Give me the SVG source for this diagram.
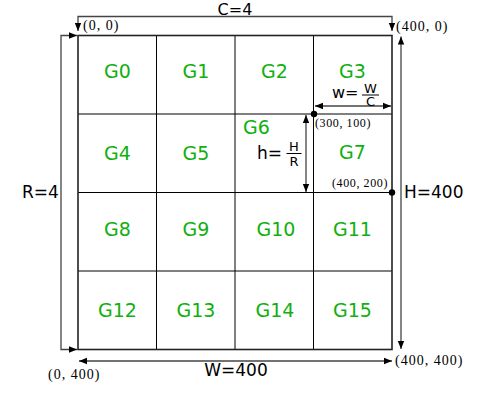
<svg xmlns="http://www.w3.org/2000/svg" width="490" height="418" viewBox="0 0 490 418">
<defs>
<marker id="ah" viewBox="0 0 10 10" refX="10" refY="5" markerWidth="8" markerHeight="8" markerUnits="userSpaceOnUse" orient="auto-start-reverse">
<path d="M0,1 L10,5 L0,9 z" fill="#000"/>
</marker>
</defs>
<style>
.grid{stroke:#000;stroke-width:1;fill:none}
.border{stroke:#222;stroke-width:1.6;fill:none}
.dim{stroke:#444;stroke-width:1.3;fill:none}
.g{font-family:"DejaVu Sans",sans-serif;font-size:19px;fill:#10b010;text-anchor:middle}
.lbl{font-family:"DejaVu Sans",sans-serif;font-size:17px;fill:#000}
.frac{font-family:"DejaVu Sans",sans-serif;font-size:13px;fill:#000;text-anchor:middle}
.co{font-family:"Liberation Serif","DejaVu Serif",serif;font-size:14px;fill:#000;letter-spacing:1px}
.cs{font-family:"Liberation Serif","DejaVu Serif",serif;font-size:12px;fill:#000;letter-spacing:0.6px}
</style>
<rect width="490" height="418" fill="#fff"/>
<g id="grid">
<path class="grid" d="M156.5,35.5V349.5M235,35.5V349.5M313.5,35.5V349.5M78,114H392M78,192.5H392M78,271H392"/>
<rect class="border" x="78" y="35.5" width="314" height="314"/>
</g>
<g id="cells">
<g id="G0"><text class="g" x="117.5" y="78">G0</text></g>
<g id="G1"><text class="g" x="196" y="78">G1</text></g>
<g id="G2"><text class="g" x="274.5" y="78">G2</text></g>
<g id="G3"><text class="g" x="352.5" y="78">G3</text></g>
<g id="G4"><text class="g" x="117.5" y="160">G4</text></g>
<g id="G5"><text class="g" x="196" y="160">G5</text></g>
<g id="G6"><text class="g" x="256.5" y="134">G6</text></g>
<g id="G7"><text class="g" x="352.5" y="159">G7</text></g>
<g id="G8"><text class="g" x="117.5" y="236">G8</text></g>
<g id="G9"><text class="g" x="196" y="236">G9</text></g>
<g id="G10"><text class="g" x="276" y="236">G10</text></g>
<g id="G11"><text class="g" x="352.5" y="236">G11</text></g>
<g id="G12"><text class="g" x="117.5" y="317">G12</text></g>
<g id="G13"><text class="g" x="196" y="317">G13</text></g>
<g id="G14"><text class="g" x="275" y="317">G14</text></g>
<g id="G15"><text class="g" x="352.5" y="317">G15</text></g>
</g>
<g id="connectors">
<path class="dim" d="M78,31V16.5H392V31" marker-start="url(#ah)" marker-end="url(#ah)"/>
<path class="dim" d="M77,35.5H61V349.5H77" marker-start="url(#ah)" marker-end="url(#ah)"/>
<path class="dim" d="M401,36.5V349" marker-start="url(#ah)" marker-end="url(#ah)"/>
<path class="dim" d="M79,361H392" marker-start="url(#ah)" marker-end="url(#ah)"/>
<path class="dim" d="M315,106H391" marker-start="url(#ah)" marker-end="url(#ah)"/>
<path class="dim" d="M306,115V192" marker-start="url(#ah)" marker-end="url(#ah)"/>
<circle cx="314" cy="114" r="3.2" fill="#000"/>
<circle cx="392" cy="192.5" r="3.2" fill="#000"/>
</g>
<g id="labels">
<text class="lbl" x="235" y="15" text-anchor="middle" style="font-size:16px">C=4</text>
<text class="lbl" x="22" y="198">R=4</text>
<text class="lbl" x="404" y="198">H=400</text>
<text class="lbl" x="236" y="376" text-anchor="middle">W=400</text>
<text class="co" x="83" y="30">(0, 0)</text>
<text class="co" x="396" y="31">(400, 0)</text>
<text class="co" x="395" y="365">(400, 400)</text>
<text class="co" x="48" y="379">(0, 400)</text>
<text class="cs" x="315" y="127">(300, 100)</text>
<text class="cs" x="332" y="187">(400, 200)</text>
<text class="lbl" x="332" y="98" style="font-size:16px">w=</text>
<text class="frac" x="370.5" y="92.5">W</text>
<path d="M362,95H379" stroke="#000" stroke-width="1"/>
<text class="frac" x="370.5" y="106">C</text>
<text class="lbl" x="257" y="159">h=</text>
<text class="frac" x="294" y="151">H</text>
<path d="M286.5,153.5H301.5" stroke="#000" stroke-width="1"/>
<text class="frac" x="294" y="166">R</text>
</g>
</svg>
